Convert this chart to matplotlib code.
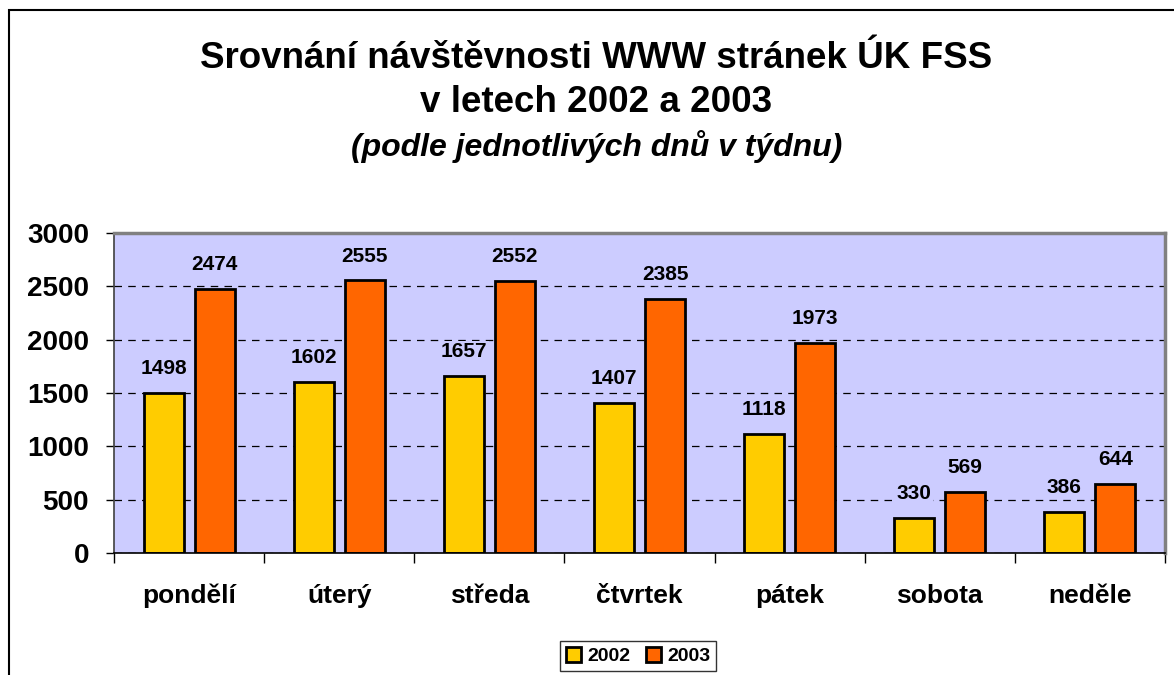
import numpy as np
import matplotlib
matplotlib.use("Agg")
import matplotlib.pyplot as plt
from matplotlib.patches import Rectangle

plt.rcParams['font.family'] = ['Liberation Sans', 'DejaVu Sans']

days = ['pondělí', 'úterý', 'středa', 'čtvrtek', 'pátek', 'sobota', 'neděle']
visits_2002 = [1498, 1602, 1657, 1407, 1118, 330, 386]
visits_2003 = [2474, 2555, 2552, 2385, 1973, 569, 644]
years = ['2002', '2003']
yticks = [0, 500, 1000, 1500, 2000, 2500, 3000]

fig = plt.figure(figsize=(11.74, 6.75), dpi=100)
ax = fig.add_axes([114 / 1174, 1 - 553 / 675, 1051 / 1174, 320 / 675])

# outer chart border (runs off the right and bottom edge)
fig.patches.append(Rectangle((9 / 1174, -0.05), 1.2, 1 - 10 / 675 + 0.05,
                             transform=fig.transFigure, fill=False,
                             edgecolor='black', linewidth=1.5))

x = np.arange(len(days))
w = 0.267
off = 0.17
ax.set_facecolor('#CCCCFF')
ax.set_axisbelow(True)
ax.yaxis.grid(True, linestyle=(0, (6, 5)), color='black', linewidth=0.9)

b1 = ax.bar(x - off, visits_2002, w, color='#FFCC00', edgecolor='black', linewidth=2, label=years[0])
b2 = ax.bar(x + off, visits_2003, w, color='#FF6600', edgecolor='black', linewidth=2, label=years[1])

for bars, vals in ((b1, visits_2002), (b2, visits_2003)):
    for r, v in zip(bars, vals):
        ax.text(r.get_x() + r.get_width() / 2, v + 140, str(v), ha='center', va='bottom',
                fontsize=15, fontweight='bold',
                bbox=dict(facecolor='#CCCCFF', edgecolor='none', pad=1))

ax.set_xlim(-0.5, len(days) - 0.5)
ax.set_ylim(0, 3000)
ax.set_yticks(yticks)
ax.set_yticklabels([str(t) for t in yticks], fontsize=20, fontweight='bold')
ax.set_xticks(x)
ax.set_xticklabels(days, fontsize=19, fontweight='bold')
ax.tick_params(axis='x', length=0, pad=22)
ax.set_xticks(np.arange(len(days) + 1) - 0.5, minor=True)
ax.tick_params(axis='x', which='minor', length=7, width=1, color='black')
ax.tick_params(axis='y', length=6, width=1, pad=12)

for s in ('top', 'right'):
    ax.spines[s].set_color('#808080')
    ax.spines[s].set_linewidth(2.5)
ax.spines['left'].set_color('#404040')
ax.spines['left'].set_linewidth(1.2)
ax.spines['bottom'].set_color('black')
ax.spines['bottom'].set_linewidth(1.2)

fig.text(0.508, 1 - 58 / 675, 'Srovnání návštěvnosti WWW stránek ÚK FSS',
         ha='center', va='center', fontsize=26.5, fontweight='bold')
fig.text(0.508, 1 - 102 / 675, 'v letech 2002 a 2003',
         ha='center', va='center', fontsize=26.5, fontweight='bold')
fig.text(0.508, 1 - 147 / 675, '(podle jednotlivých dnů v týdnu)',
         ha='center', va='center', fontsize=23, fontweight='bold', style='italic')

leg = fig.legend(loc='center', bbox_to_anchor=(638 / 1174, 1 - 656 / 675), ncol=2,
                 prop={'size': 14, 'weight': 'bold'}, frameon=True, fancybox=False,
                 handlelength=0.8, handleheight=0.8, handletextpad=0.3, columnspacing=0.8,
                 borderpad=0.3, edgecolor='black')
leg.get_frame().set_linewidth(1)

fig.savefig('out.png', dpi=100)
